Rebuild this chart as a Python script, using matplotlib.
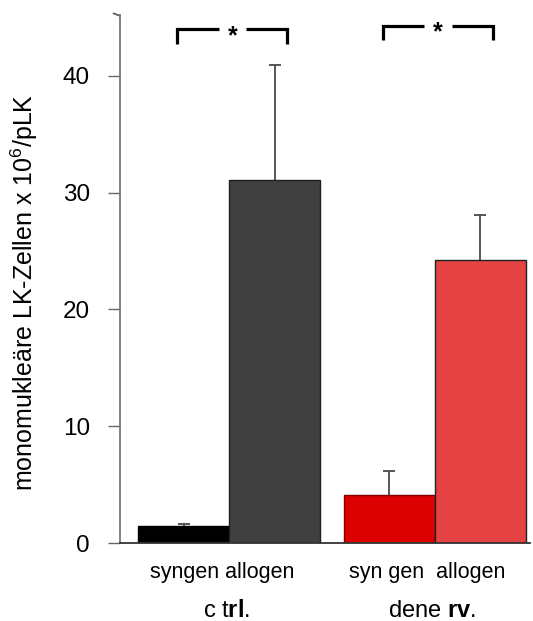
import matplotlib
matplotlib.use("Agg")
import matplotlib.pyplot as plt
from matplotlib.lines import Line2D

plt.rcParams['font.family'] = ['Liberation Sans', 'DejaVu Sans']
plt.rcParams['mathtext.fontset'] = 'custom'
plt.rcParams['mathtext.rm'] = 'Liberation Sans'
plt.rcParams['mathtext.bf'] = 'Liberation Sans:bold'
plt.rcParams['mathtext.it'] = 'Liberation Sans:italic'

# Data
groups = ["c t$\\mathbf{rl}$.", "dene $\\mathbf{rv}$."]
conditions = ["syngen", "allogen", "syngen", "allogen"]
cond_labels = ["syngen allogen", "syn gen  allogen"]
values = [1.45, 31.1, 4.15, 24.2]
errors = [0.15, 9.8, 2.0, 3.9]
bar_colors = ["#000000", "#404040", "#dd0000", "#e54343"]
edge_colors = ["#000000", "#202020", "#800000", "#202020"]
yticks = [0, 10, 20, 30, 40]
sig_pairs = [(0, 1), (2, 3)]

positions = [0, 1, 2.26, 3.26]

fig = plt.figure(figsize=(5.33, 6.21), dpi=100)
ax = fig.add_axes([0.2251, 0.1256, 0.770, 0.8502])

ax.bar(positions, values, width=1.0, color=bar_colors, edgecolor=edge_colors,
       linewidth=1.0, zorder=2)
for x, v, e in zip(positions, values, errors):
    _, caps, _ = ax.errorbar([x], [v], yerr=[[0], [e]], fmt='none', ecolor='#555555',
                             elinewidth=1.4, capsize=4.3, capthick=1.4, zorder=1)
    if len(caps) == 2:
        caps[0].set_visible(False)

ax.set_xlim(-0.70, 3.81)
ax.set_ylim(0, 45.2)
ax.set_yticks(yticks)
ax.set_yticklabels([str(t) for t in yticks], fontsize=17.5)
ax.tick_params(axis='y', direction='out', length=8.6, width=1.0, color='#666666', pad=13)
ax.set_xticks([])
for s in ['top', 'right']:
    ax.spines[s].set_visible(False)
ax.spines['left'].set_color('#777777')
ax.spines['left'].set_linewidth(1.3)
ax.spines['bottom'].set_color('#333333')
ax.spines['bottom'].set_linewidth(1.3)

# odd slanted tick at top of the axis
ax.add_line(Line2D([-0.0155, 0.0], [1.003, 0.9985], transform=ax.transAxes,
                   color='#555555', linewidth=1.2, clip_on=False))

ax.set_ylabel("monomukleäre LK-Zellen x 10$^{6}$/pLK", fontsize=18)
ax.yaxis.set_label_coords(-0.195, 0.475)

# significance brackets
bracket_y = [44.0, 44.3]
for (i, j), by in zip(sig_pairs, bracket_y):
    x0 = positions[i] - 0.07
    x1 = positions[j] + 0.14
    xm = (x0 + x1) / 2
    drop = 1.25
    gap = 0.15
    ax.plot([x0, x0, xm - gap], [by - drop, by, by], color='black', linewidth=2.3,
            clip_on=False, solid_capstyle='butt', solid_joinstyle='miter')
    ax.plot([xm + gap, x1, x1], [by, by, by - drop], color='black', linewidth=2.3,
            clip_on=False, solid_capstyle='butt', solid_joinstyle='miter')
    ax.text(xm, by - 0.6, "*", ha='center', va='center', fontsize=18, fontweight='bold')

# category labels
centers = [(positions[0] + positions[1]) / 2 - 0.08, (positions[2] + positions[3]) / 2 - 0.08]
for c, lab, g in zip(centers, cond_labels, groups):
    ax.text(c, -2.5, lab, ha='center', va='center', fontsize=15.5)
    ax.text(c + 0.05, -5.85, g, ha='center', va='center', fontsize=17)

fig.savefig("out.png", dpi=100)
